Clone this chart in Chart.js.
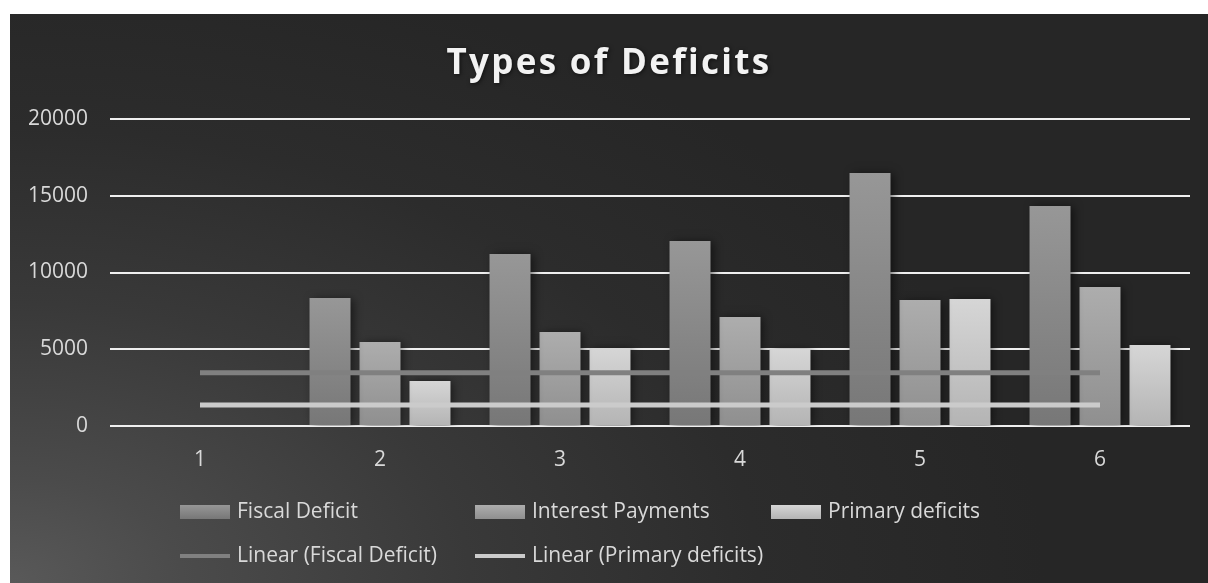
<!DOCTYPE html>
<html>
<head>
<meta charset="utf-8">
<script src="https://cdn.jsdelivr.net/npm/chart.js@4.4.1/dist/chart.umd.min.js"></script>
<style>
  html, body { margin: 0; padding: 0; background: #ffffff; }
  #wrap {
    position: absolute; left: 10px; top: 14px; width: 1198px; height: 569px;
    background: radial-gradient(1150px 700px at 0% 100%, #595959 0%, #4b4b4b 15%, #393939 40%, #2c2c2c 65%, #262626 90%);
  }
</style>
</head>
<body>
<div id="wrap"><canvas id="myChart" width="1198" height="569"></canvas></div>
<script>
const categories = ['1', '2', '3', '4', '5', '6'];
const fiscalDeficit = [null, 8340, 11200, 12050, 16480, 14330];
const interestPayments = [null, 5470, 6120, 7100, 8210, 9060];
const primaryDeficits = [null, 2930, 5080, 5020, 8270, 5280];
const fiscalTrend = [3470, 3470, 3470, 3470, 3470, 3470];
const primaryTrend = [1370, 1370, 1370, 1370, 1370, 1370];
const yTicks = [0, 5000, 10000, 15000, 20000];

const textColor = '#d9d9d9';
const font = '"Open Sans", "Noto Sans", sans-serif';

// vertical gradient per bar, light at top
function barFill(top, bottom) {
  return (ctx) => {
    const chart = ctx.chart;
    if (!chart.chartArea || ctx.type !== 'data' || ctx.parsed == null || ctx.parsed.y == null) return bottom;
    const y = chart.scales.y;
    const y0 = y.getPixelForValue(0);
    const y1 = y.getPixelForValue(ctx.parsed.y);
    if (!isFinite(y1) || y0 === y1) return bottom;
    const g = chart.ctx.createLinearGradient(0, y1, 0, y0);
    g.addColorStop(0, top);
    g.addColorStop(1, bottom);
    return g;
  };
}

const barColors = [
  ['#979797', '#777777'],
  ['#adadad', '#8f8f8f'],
  ['#d6d6d6', '#b4b4b4'],
];

const barShadow = {
  id: 'barShadow',
  beforeDatasetDraw(chart, args) {
    if (chart.data.datasets[args.index].type === 'line') return;
    const c = chart.ctx;
    c.save();
    c.shadowColor = 'rgba(0,0,0,0.55)';
    c.shadowBlur = 9;
    c.shadowOffsetX = 3;
    c.shadowOffsetY = 1;
    args.meta._shadowed = true;
  },
  afterDatasetDraw(chart, args) {
    if (args.meta._shadowed) {
      chart.ctx.restore();
      args.meta._shadowed = false;
    }
  }
};

const titleAndLegend = {
  id: 'titleAndLegend',
  afterDraw(chart) {
    const c = chart.ctx;
    // title
    c.save();
    c.font = 'bold 35px ' + font;
    c.fillStyle = '#f2f2f2';
    c.textAlign = 'center';
    c.textBaseline = 'middle';
    c.letterSpacing = '2.3px';
    c.shadowColor = 'rgba(0,0,0,0.6)';
    c.shadowBlur = 4;
    c.shadowOffsetX = 1;
    c.shadowOffsetY = 1;
    c.fillText(chart.options.plugins.title.text, chart.width / 2, 50);
    c.restore();

    // legend in fixed columns, two rows
    const cols = [170, 465, 761];
    const rows = [498, 542];
    const ds = chart.data.datasets;
    const bars = ds.filter(d => d.type !== 'line');
    const lines = ds.filter(d => d.type === 'line');
    c.save();
    c.font = '21px ' + font;
    c.textBaseline = 'middle';
    c.fillStyle = textColor;
    bars.forEach((d, i) => {
      const x = cols[i], y = rows[0];
      const g = c.createLinearGradient(0, y - 7, 0, y + 7);
      g.addColorStop(0, barColors[i][0]);
      g.addColorStop(1, barColors[i][1]);
      c.fillStyle = g;
      c.fillRect(x, y - 7, 50, 14);
      c.fillStyle = textColor;
      c.fillText(d.label, x + 57, y);
    });
    lines.forEach((d, i) => {
      const x = cols[i], y = rows[1];
      c.fillStyle = d.borderColor;
      c.fillRect(x, y - 2, 50, 4);
      c.fillStyle = textColor;
      c.fillText(d.label, x + 57, y);
    });
    c.restore();
  }
};

const data = {
  labels: categories,
  datasets: [
    {
      type: 'bar',
      label: 'Fiscal Deficit',
      data: fiscalDeficit,
      backgroundColor: barFill(barColors[0][0], barColors[0][1]),
      order: 1,
    },
    {
      type: 'bar',
      label: 'Interest Payments',
      data: interestPayments,
      backgroundColor: barFill(barColors[1][0], barColors[1][1]),
      order: 1,
    },
    {
      type: 'bar',
      label: 'Primary deficits',
      data: primaryDeficits,
      backgroundColor: barFill(barColors[2][0], barColors[2][1]),
      order: 1,
    },
    {
      type: 'line',
      label: 'Linear (Fiscal Deficit)',
      data: fiscalTrend,
      borderColor: '#808080',
      borderWidth: 5,
      pointRadius: 0,
      order: 0,
    },
    {
      type: 'line',
      label: 'Linear (Primary deficits)',
      data: primaryTrend,
      borderColor: '#cbcbcb',
      borderWidth: 5,
      pointRadius: 0,
      order: 0,
    },
  ],
};

const config = {
  type: 'bar',
  data: data,
  options: {
    responsive: false,
    animation: false,
    datasets: {
      bar: { categoryPercentage: 0.833, barPercentage: 0.82 },
    },
    layout: { padding: { top: 105, bottom: 97, left: 0, right: 18 } },
    plugins: {
      legend: { display: false },
      tooltip: { enabled: false },
      title: { display: false, text: 'Types of Deficits' },
    },
    scales: {
      x: {
        grid: { display: false },
        border: { display: false },
        ticks: { color: textColor, font: { family: font, size: 21 }, padding: 13 },
        afterFit: (s) => { s.height = 60; },
      },
      y: {
        min: 0,
        max: 20000,
        afterBuildTicks: (s) => { s.ticks = yTicks.map(v => ({ value: v })); },
        grid: { color: '#efefef', lineWidth: 2, drawTicks: false },
        border: { display: false },
        ticks: {
          color: textColor,
          font: { family: font, size: 21 },
          padding: 22,
          callback: (v) => String(v),
        },
        afterFit: (s) => { s.width = 100; },
      },
    },
  },
  plugins: [barShadow, titleAndLegend],
};

const myChart = new Chart(document.getElementById('myChart'), config);
</script>
</body>
</html>
